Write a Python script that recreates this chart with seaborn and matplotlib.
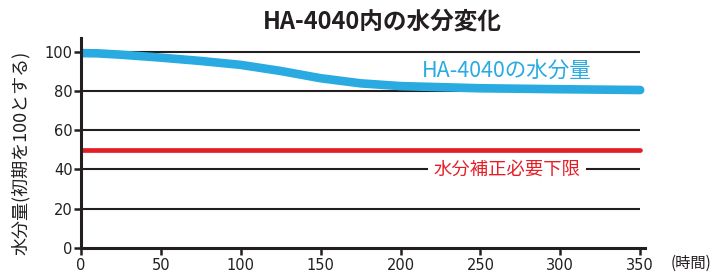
import matplotlib
matplotlib.use('Agg')
import matplotlib.pyplot as plt
import seaborn as sns
import pandas as pd

# 読み取ったデータ
hours = [0, 10, 25, 50, 75, 100, 125, 150, 175, 200, 250, 300, 350]
moisture = [99.3, 99.2, 98.5, 97.0, 95.3, 93.3, 90.2, 86.5, 83.9, 82.5, 81.4, 80.9, 80.5]
limit_hours = [0, 350]
limit_value = [50, 50]
x_ticks = [0, 50, 100, 150, 200, 250, 300, 350]
y_ticks = [0, 20, 40, 60, 80, 100]

sns.set_style('white')
plt.rcParams['font.family'] = ['Noto Sans CJK JP', 'DejaVu Sans']

ink = '#231f20'
blue = '#29abe2'
red = '#e41e26'

fig = plt.figure(figsize=(7.16, 2.75), dpi=100)
ax = fig.add_axes([0.1131, 0.0982, 0.7877, 0.7636])

# 横の罫線
ax.hlines(y_ticks[1:], 0, 350, color=ink, lw=1.5, zorder=1)

df = pd.DataFrame({'時間': hours, '水分量': moisture})
sns.lineplot(data=df, x='時間', y='水分量', ax=ax, color=blue, lw=6.2,
             solid_capstyle='round', zorder=3)
sns.lineplot(x=limit_hours, y=limit_value, ax=ax, color=red, lw=3.4,
             solid_capstyle='round', zorder=3)

ax.set_xlim(0, 353)
ax.set_ylim(0, 107)
ax.set_xticks(x_ticks)
ax.set_yticks(y_ticks)
ax.set_xlabel('')
ax.set_ylabel('')

for s in ['top', 'right']:
    ax.spines[s].set_visible(False)
for s in ['left', 'bottom']:
    ax.spines[s].set_color(ink)
    ax.spines[s].set_linewidth(2.2)
    ax.spines[s].set_zorder(4)
ax.tick_params(axis='both', direction='out', length=5, width=1.8, color=ink,
               labelsize=11, labelcolor=ink, pad=1)
ax.tick_params(axis='x', bottom=True, pad=2)
ax.tick_params(axis='y', left=True)
for lab in ax.get_xticklabels() + ax.get_yticklabels():
    lab.set_family(['DejaVu Sans'])
    lab.set_fontsize(10.5)

ax.text(266.5, 90.3, 'HA-4040の水分量', color=blue, fontsize=15.5,
        ha='center', va='center', zorder=5)
ax.text(266.5, 40, '水分補正必要下限', color=red, fontsize=13.2,
        ha='center', va='center', zorder=5,
        bbox=dict(facecolor='white', edgecolor='none', pad=4))

fig.text(0.534, 0.92, 'HA-4040内の水分変化', fontsize=17, fontweight='bold',
         color=ink, ha='center', va='center')
fig.text(0.0288, 0.4436, '水分量(初期を100とする)', fontsize=13, color=ink,
         rotation=90, ha='center', va='center')
fig.text(0.965, 0.044, '(時間)', fontsize=11, color=ink, ha='center', va='center')

fig.savefig('out.png', dpi=100)
